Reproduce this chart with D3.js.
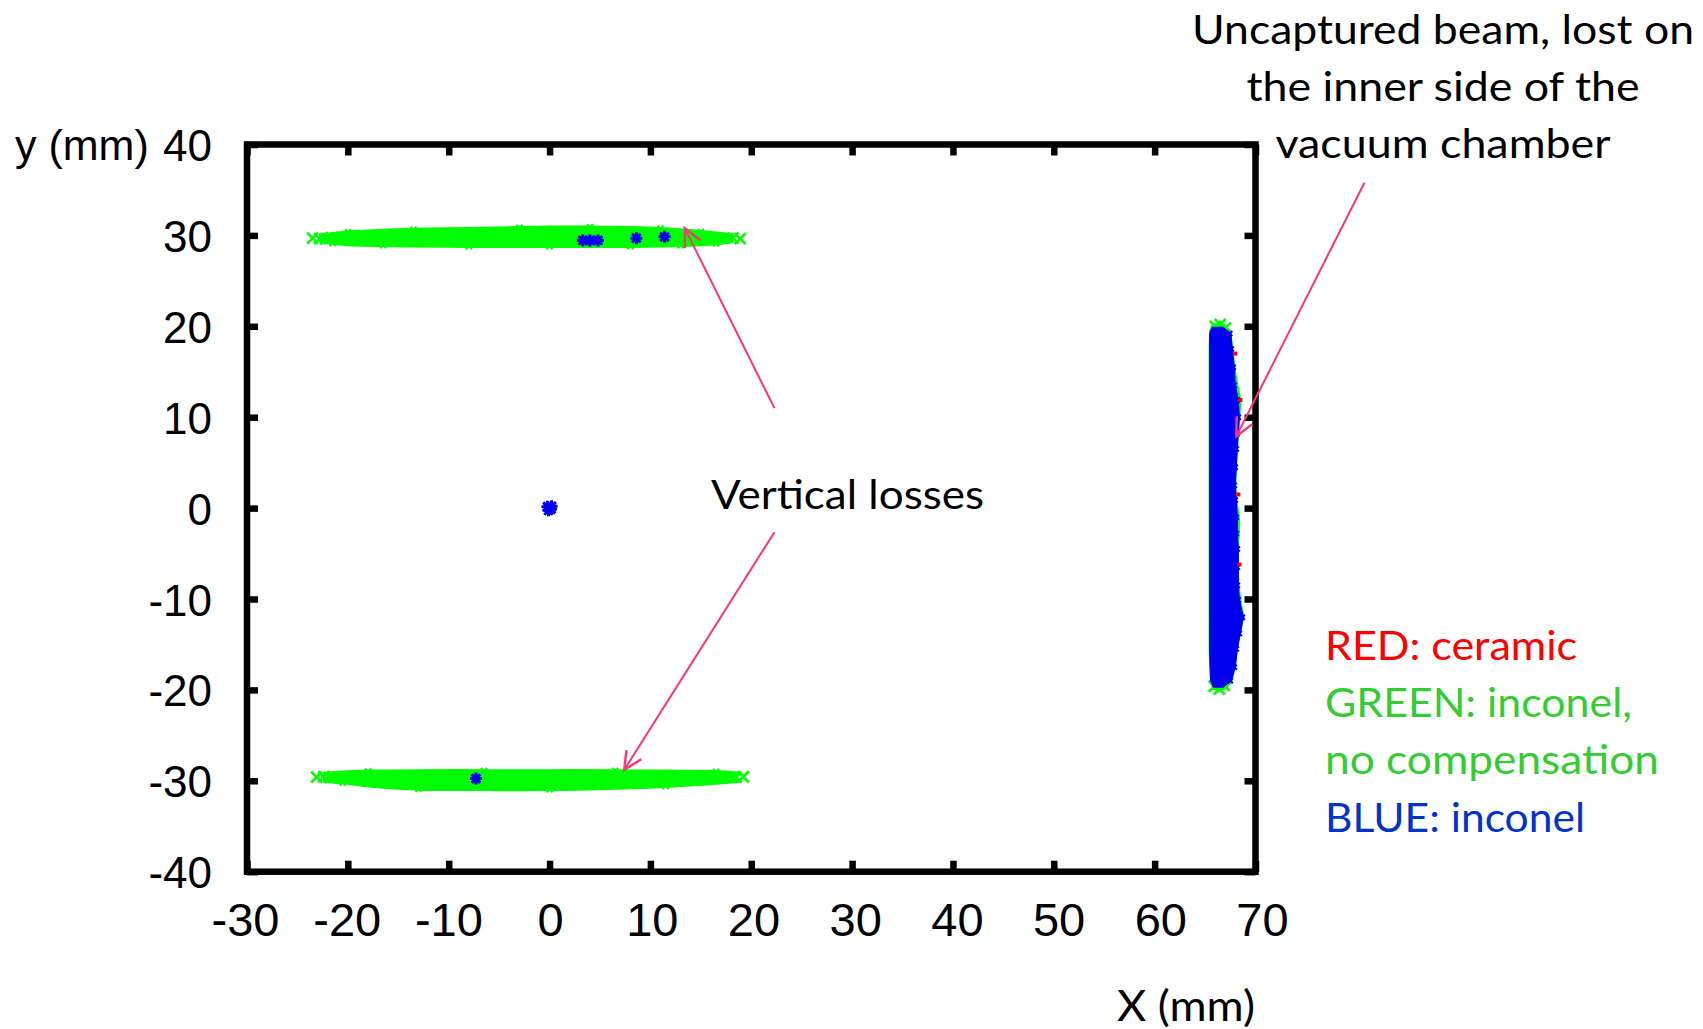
<!DOCTYPE html>
<html>
<head>
<meta charset="utf-8">
<script src="https://cdn.jsdelivr.net/npm/d3@7"></script>
<style>
	body { margin: 0; background: #fff; }
	svg { display: block; }
</style>
</head>
<body>
<div id="chart"></div>
<script>
	"use strict";

	// ---- data (mm) ----
	var xTicks = [-30, -20, -10, 0, 10, 20, 30, 40, 50, 60, 70],
		yTicks = [-40, -30, -20, -10, 0, 10, 20, 30, 40];

	// vertical losses, upper wall: [x, yLow, yHigh]
	var greenTopBand = [
		[-22.8, 29.3, 30.1], [-21.5, 29.05, 30.3], [-20.0, 28.9, 30.45],
		[-16.5, 28.8, 30.65], [-13.5, 28.75, 30.75], [-8.0, 28.7, 30.85],
		[-3.0, 28.7, 30.95], [0.0, 28.7, 31.0], [4.0, 28.7, 31.0],
		[8.0, 28.7, 30.95], [11.0, 28.75, 30.85], [13.0, 28.8, 30.7],
		[15.0, 28.9, 30.5], [16.5, 29.0, 30.35], [18.2, 29.25, 30.15]
	];
	// vertical losses, lower wall: [x, yLow, yHigh]
	var greenBottomBand = [
		[-22.4, -30.15, -29.1], [-20.5, -30.3, -28.95], [-18.0, -30.65, -28.85],
		[-13.0, -31.0, -28.8], [-6.5, -31.05, -28.8], [0.0, -31.05, -28.8],
		[6.5, -30.9, -28.8], [11.5, -30.7, -28.85], [16.5, -30.35, -28.9],
		[18.6, -30.15, -29.05]
	];
	// uncaptured beam on the inner side: [y, xLeft, xRight]
	var greenRightBand = [
		[20.3, 65.7, 66.9], [19.5, 65.4, 67.6], [17.5, 65.35, 67.8],
		[15.5, 65.35, 68.0], [13.5, 65.35, 68.3], [11.9, 65.35, 68.6],
		[10.0, 65.35, 68.5], [8.2, 65.35, 68.35], [6.5, 65.35, 68.25],
		[4.5, 65.35, 68.15], [2.5, 65.35, 68.1], [0.9, 65.35, 68.2],
		[-1.0, 65.35, 68.45], [-2.8, 65.35, 68.45], [-4.5, 65.35, 68.35],
		[-6.5, 65.35, 68.35], [-8.5, 65.35, 68.4], [-10.1, 65.35, 68.6],
		[-12.0, 65.35, 68.9], [-13.8, 65.35, 68.55], [-15.5, 65.35, 68.25],
		[-17.5, 65.4, 68.05], [-19.2, 65.5, 67.7], [-20.0, 65.8, 66.9]
	];
	var blueRightBand = [
		[19.9, 65.7, 66.8], [19.2, 65.45, 67.55], [17.5, 65.45, 67.7],
		[15.5, 65.45, 67.9], [13.5, 65.45, 68.0], [11.9, 65.45, 68.3],
		[10.0, 65.45, 68.4], [8.2, 65.45, 68.3], [6.5, 65.45, 68.2],
		[4.5, 65.45, 68.1], [2.5, 65.45, 68.0], [0.9, 65.45, 68.1],
		[-1.0, 65.45, 68.2], [-2.8, 65.45, 68.2], [-4.5, 65.45, 68.3],
		[-6.5, 65.45, 68.3], [-8.5, 65.45, 68.3], [-10.1, 65.45, 68.4],
		[-12.0, 65.45, 68.8], [-13.8, 65.45, 68.5], [-15.5, 65.45, 68.2],
		[-17.5, 65.5, 68.0], [-19.0, 65.55, 67.6], [-19.7, 65.8, 66.8]
	];
	// loose markers
	var greenPoints = [
		[-23.5, 29.7], [-22.8, 29.65], [-22.2, 29.6], [-21.6, 29.75], [18.9, 29.65], [18.2, 29.7],
		[-23.1, -29.6], [-22.4, -29.55], [-21.8, -29.65], [19.2, -29.55], [18.5, -29.6],
		[66.0, 20.0], [66.5, 20.2], [67.0, 19.8], [65.9, -19.6], [66.4, -19.9], [66.9, -19.5]
	];
	var bluePoints = [
		[3.3, 29.45], [4.0, 29.45], [4.8, 29.45], [8.6, 29.7], [11.4, 29.85],
		[-7.3, -29.75],
		[-0.2, 0.15], [0.15, -0.1], [-0.1, -0.25], [0.2, 0.2]
	];
	var redPoints = [[68.0, 17.0], [68.5, 11.9], [68.3, 1.5], [68.4, -6.2]];

	var arrows = [
		{ from: [22.3, 11.0], to: [13.4, 30.8] },
		{ from: [22.3, -2.65], to: [7.4, -28.8] },
		{ from: [80.8, 35.8], to: [68.1, 7.9] }
	];
	var noteLines = ["Uncaptured beam, lost on", "the inner side of the", "vacuum chamber"],
		lossLabel = "Vertical losses",
		legendLines = ["RED: ceramic", "GREEN: inconel,", "no compensation", "BLUE: inconel"];

	// ---- layout ----
	var width = 1703,
		height = 1029,
		frameWidth = 6.5,
		tickLen = 11,
		green = "#00ff00",
		blue = "#0000ee",
		red = "#ff0000",
		pink = "#ff3377",
		legendColors = ["#ff0000", "#33cc33", "#33cc33", "#0033cc"],
		labelFont = "'Liberation Sans', Arial, sans-serif",
		noteFont = "Lato, 'Open Sans', sans-serif";

	var x = d3.scaleLinear().domain([-30, 70]).range([247, 1255.5]),
		y = d3.scaleLinear().domain([-40, 40]).range([871.7, 144.5]),
		xLabel = d3.scaleLinear().domain([-30, 70]).range([245, 1262]),
		plainNum = function(d) { return String(d); };

	var svg = d3.select("#chart")
		.append("svg")
		.attr("width", width)
		.attr("height", height);

	svg.append("rect")
		.attr("width", width)
		.attr("height", height)
		.attr("fill", "#fff");

	function crossPath(s) {
		return "M" + (-s) + "," + (-s) + "L" + s + "," + s + "M" + (-s) + "," + s + "L" + s + "," + (-s);
	}
	function starPath(s) {
		var d = s * 0.72;
		return "M" + (-s) + ",0L" + s + ",0M0," + (-s) + "L0," + s +
			"M" + (-d) + "," + (-d) + "L" + d + "," + d + "M" + (-d) + "," + d + "L" + d + "," + (-d);
	}

	// ---- data layer ----
	var plot = svg.append("g").classed("data", true);

	var hArea = d3.area()
			.x(function(d) { return x(d[0]); })
			.y0(function(d) { return y(d[1]); })
			.y1(function(d) { return y(d[2]); })
			.curve(d3.curveCatmullRom),
		vArea = d3.area()
			.y(function(d) { return y(d[0]); })
			.x0(function(d) { return x(d[1]); })
			.x1(function(d) { return x(d[2]); })
			.curve(d3.curveLinear);

	plot.selectAll("path.hband")
		.data([greenTopBand, greenBottomBand])
		.enter()
		.append("path")
		.classed("hband", true)
		.attr("d", hArea)
		.attr("fill", green)
		.attr("stroke", green)
		.attr("stroke-width", 1.5);

	// ragged edges of the horizontal bands
	[greenTopBand, greenBottomBand].forEach(function(band) {
		plot.append("g")
			.selectAll("path")
			.data(band.slice(1, -1))
			.enter()
			.append("path")
			.attr("transform", function(d, i) {
				var edge = i % 2 ? d[2] : d[1];
				return "translate(" + x(d[0]) + "," + (y(edge) + (i % 2 ? 1 : -1)) + ")";
			})
			.attr("d", crossPath(3))
			.attr("stroke", green)
			.attr("stroke-width", 2)
			.attr("fill", "none");
	});

	plot.append("path")
		.datum(greenRightBand)
		.attr("d", vArea)
		.attr("fill", green);

	plot.append("g")
		.selectAll("path")
		.data(greenPoints)
		.enter()
		.append("path")
		.attr("transform", function(d) { return "translate(" + x(d[0]) + "," + y(d[1]) + ")"; })
		.attr("d", crossPath(5.5))
		.attr("stroke", green)
		.attr("stroke-width", 2.6)
		.attr("fill", "none");

	plot.append("path")
		.datum(blueRightBand)
		.attr("d", vArea)
		.attr("fill", blue)
		.attr("stroke", blue)
		.attr("stroke-width", 1);

	plot.append("g")
		.selectAll("path")
		.data(blueRightBand.slice(1, -1))
		.enter()
		.append("path")
		.attr("transform", function(d) { return "translate(" + (x(d[2]) - 1) + "," + y(d[0]) + ")"; })
		.attr("d", crossPath(2.5))
		.attr("stroke", blue)
		.attr("stroke-width", 2)
		.attr("fill", "none");

	plot.append("g")
		.selectAll("path")
		.data(bluePoints)
		.enter()
		.append("path")
		.attr("transform", function(d) { return "translate(" + x(d[0]) + "," + y(d[1]) + ")"; })
		.attr("d", starPath(6))
		.attr("stroke", blue)
		.attr("stroke-width", 3)
		.attr("fill", "none");

	plot.append("g")
		.selectAll("rect")
		.data(redPoints)
		.enter()
		.append("rect")
		.attr("x", function(d) { return x(d[0]) - 2; })
		.attr("y", function(d) { return y(d[1]) - 2; })
		.attr("width", 4)
		.attr("height", 4)
		.attr("fill", red);

	// ---- frame and ticks ----
	var axes = svg.append("g").classed("axes", true);

	function styleAxis(g) {
		g.select(".domain").remove();
		g.selectAll(".tick line")
			.attr("stroke", "#000")
			.attr("stroke-width", frameWidth);
	}

	axes.append("g")
		.attr("transform", "translate(0," + y(-40) + ")")
		.call(d3.axisBottom(x).tickValues(xTicks).tickSize(-tickLen).tickFormat(plainNum))
		.call(styleAxis)
		.call(function(g) {
			g.selectAll(".tick text")
				.attr("x", function(d) { return xLabel(d) - x(d); })
				.attr("y", 936 - y(-40))
				.attr("dy", null)
				.attr("fill", "#000")
				.style("font-family", labelFont)
				.style("font-size", "47px");
		});

	axes.append("g")
		.attr("transform", "translate(0," + y(40) + ")")
		.call(d3.axisTop(x).tickValues(xTicks).tickSize(-tickLen).tickFormat(""))
		.call(styleAxis);

	axes.append("g")
		.attr("transform", "translate(" + x(-30) + ",0)")
		.call(d3.axisLeft(y).tickValues(yTicks).tickSize(-tickLen).tickFormat(plainNum))
		.call(styleAxis)
		.call(function(g) {
			g.selectAll(".tick text")
				.attr("x", 212 - x(-30))
				.attr("dy", "16px")
				.attr("fill", "#000")
				.style("font-family", labelFont)
				.style("font-size", "44px");
		});

	axes.append("g")
		.attr("transform", "translate(" + x(70) + ",0)")
		.call(d3.axisRight(y).tickValues(yTicks).tickSize(-tickLen).tickFormat(""))
		.call(styleAxis);

	axes.append("rect")
		.attr("x", x(-30))
		.attr("y", y(40))
		.attr("width", x(70) - x(-30))
		.attr("height", y(-40) - y(40))
		.attr("fill", "none")
		.attr("stroke", "#000")
		.attr("stroke-width", frameWidth);

	// axis titles
	svg.append("text")
		.attr("x", 15)
		.attr("y", 160)
		.style("font-family", labelFont)
		.style("font-size", "43px")
		.text("y (mm)");

	svg.append("text")
		.attr("x", 1117)
		.attr("y", 1021)
		.attr("textLength", 138)
		.attr("lengthAdjust", "spacingAndGlyphs")
		.style("font-family", noteFont)
		.style("font-size", "42px")
		.text("X (mm)");

	// ---- annotations ----
	var arrowG = svg.append("g").classed("arrows", true);

	arrows.forEach(function(a) {
		var x1 = x(a.from[0]), y1 = y(a.from[1]),
			x2 = x(a.to[0]), y2 = y(a.to[1]),
			ang = Math.atan2(y1 - y2, x1 - x2),
			head = 20,
			spread = 0.45;
		arrowG.append("line")
			.attr("x1", x1).attr("y1", y1)
			.attr("x2", x2).attr("y2", y2)
			.attr("stroke", pink)
			.attr("stroke-width", 2);
		arrowG.append("path")
			.attr("d", "M" + (x2 + head * Math.cos(ang + spread)) + "," + (y2 + head * Math.sin(ang + spread)) +
				"L" + x2 + "," + y2 +
				"L" + (x2 + head * Math.cos(ang - spread)) + "," + (y2 + head * Math.sin(ang - spread)))
			.attr("fill", "none")
			.attr("stroke", pink)
			.attr("stroke-width", 2.4);
	});

	var noteWidths = [502, 393, 335];
	svg.append("g")
		.selectAll("text")
		.data(noteLines)
		.enter()
		.append("text")
		.attr("x", 1443)
		.attr("y", function(d, i) { return 44 + i * 57; })
		.attr("text-anchor", "middle")
		.attr("textLength", function(d, i) { return noteWidths[i]; })
		.attr("lengthAdjust", "spacingAndGlyphs")
		.style("font-family", noteFont)
		.style("font-size", "41px")
		.text(function(d) { return d; });

	svg.append("text")
		.attr("x", 711)
		.attr("y", 509)
		.attr("textLength", 273)
		.attr("lengthAdjust", "spacingAndGlyphs")
		.style("font-family", noteFont)
		.style("font-size", "41px")
		.text(lossLabel);

	var legendWidths = [252, 307, 334, 260];
	svg.append("g")
		.selectAll("text")
		.data(legendLines)
		.enter()
		.append("text")
		.attr("x", 1325)
		.attr("y", function(d, i) { return 660 + i * 57.2; })
		.attr("textLength", function(d, i) { return legendWidths[i]; })
		.attr("lengthAdjust", "spacingAndGlyphs")
		.attr("fill", function(d, i) { return legendColors[i]; })
		.style("font-family", noteFont)
		.style("font-size", "41px")
		.text(function(d) { return d; });
</script>
</body>
</html>
